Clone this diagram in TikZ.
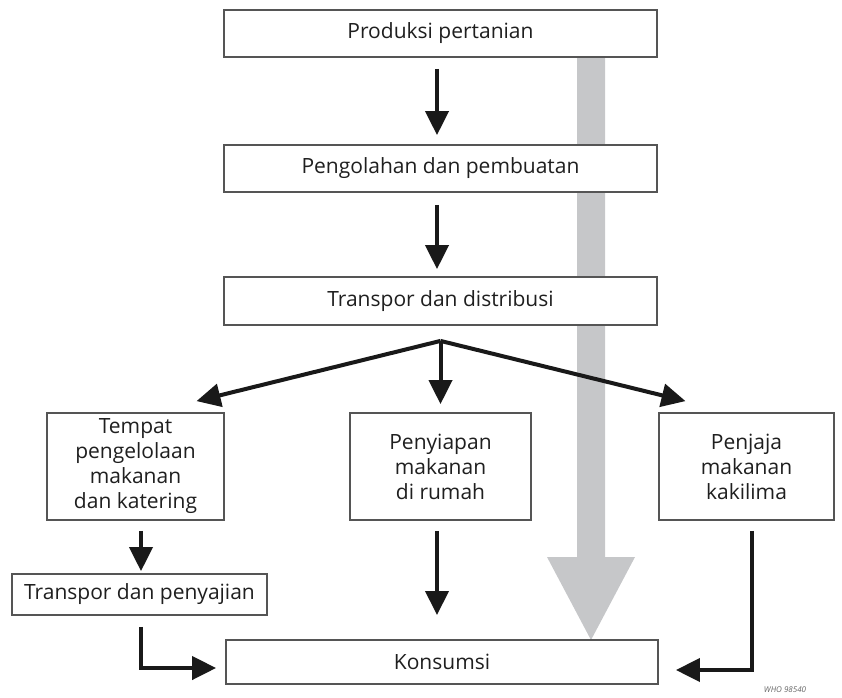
\documentclass[tikz,border=0pt]{standalone}
\usepackage{fontspec}
\setmainfont{Open Sans}
\usetikzlibrary{arrows.meta,backgrounds}
\definecolor{flowgray}{HTML}{C6C7C9}
\definecolor{boxline}{HTML}{555555}
\begin{document}
\begin{tikzpicture}[x=1pt, y=-1pt, font=\fontsize{21}{25}\selectfont, text=black!88,
  box/.style={draw=boxline, line width=1.8pt, fill=white, inner sep=2pt, align=center},
  arr/.style={-{Triangle[length=24pt, width=23pt]}, line width=4pt, black!90},
  elbow/.style={arr, rounded corners=0pt}]
  \useasboundingbox (0,0) rectangle (842,697);
  % top chain
  \node[box, minimum width=433pt, minimum height=47pt] (prod) at (440.5,33.5) {Produksi pertanian};
  \node[box, minimum width=433pt, minimum height=47pt] (olah) at (440.5,168.5) {Pengolahan dan pembuatan};
  \node[box, minimum width=433pt, minimum height=48pt] (trans) at (440.5,301) {Transpor dan distribusi};
  % three outlets
  \node[box, minimum width=177pt, minimum height=107pt] (tempat) at (135.5,466.5) {Tempat\\pengelolaan\\makanan\\dan katering};
  \node[box, minimum width=181pt, minimum height=107pt] (rumah) at (440.5,466.5) {Penyiapan\\makanan\\di rumah};
  \node[box, minimum width=175pt, minimum height=107pt] (penjaja) at (746.5,466.5) {Penjaja\\makanan\\kakilima};
  \node[box, minimum width=255pt, minimum height=41pt] (saji) at (139.5,594.5) {Transpor dan penyajian};
  \node[box, minimum width=432pt, minimum height=44pt] (konsumsi) at (442,662) {Konsumsi};
  \node[font=\fontsize{8}{9}\selectfont\itshape, text=black!60] (kode) at (785,690) {WHO 98540};
  % wide grey flow, behind the boxes
  \begin{pgfonlayer}{background}
    \fill[flowgray] (577,57) -- (605,57) -- (605,557) -- (635,557) -- (591,640)
      -- (547,557) -- (577,557) -- cycle;
  \end{pgfonlayer}
  \coordinate (br) at ([yshift=-15pt]trans.south);
  \coordinate (mid) at (437,640);
  \draw[arr, shorten <=11pt, shorten >=9pt] (prod.south -| 437,0) -- (olah.north -| 437,0);
  \draw[arr, shorten <=12pt, shorten >=7pt] (olah.south -| 437,0) -- (trans.north -| 437,0);
  \draw[arr] (br) -- ([xshift=61pt, yshift=11pt]tempat.north);
  \draw[arr, shorten >=8pt] (br) -- (rumah.north -| br);
  \draw[arr] (br) -- ([xshift=-61pt, yshift=11pt]penjaja.north);
  \draw[arr, shorten <=10pt, shorten >=2pt] (tempat.south -| 141,0) -- (saji.north -| 141,0);
  \draw[arr, shorten <=10pt, shorten >=25pt] (rumah.south -| mid) -- (mid);
  \draw[elbow, shorten <=11pt] (saji.south -| 141,0) |- ([xshift=-9pt, yshift=-6pt]konsumsi.west);
  \draw[elbow, shorten <=10pt] (penjaja.south -| 752,0) |- ([xshift=17pt, yshift=-8pt]konsumsi.east);
\end{tikzpicture}
\end{document}
